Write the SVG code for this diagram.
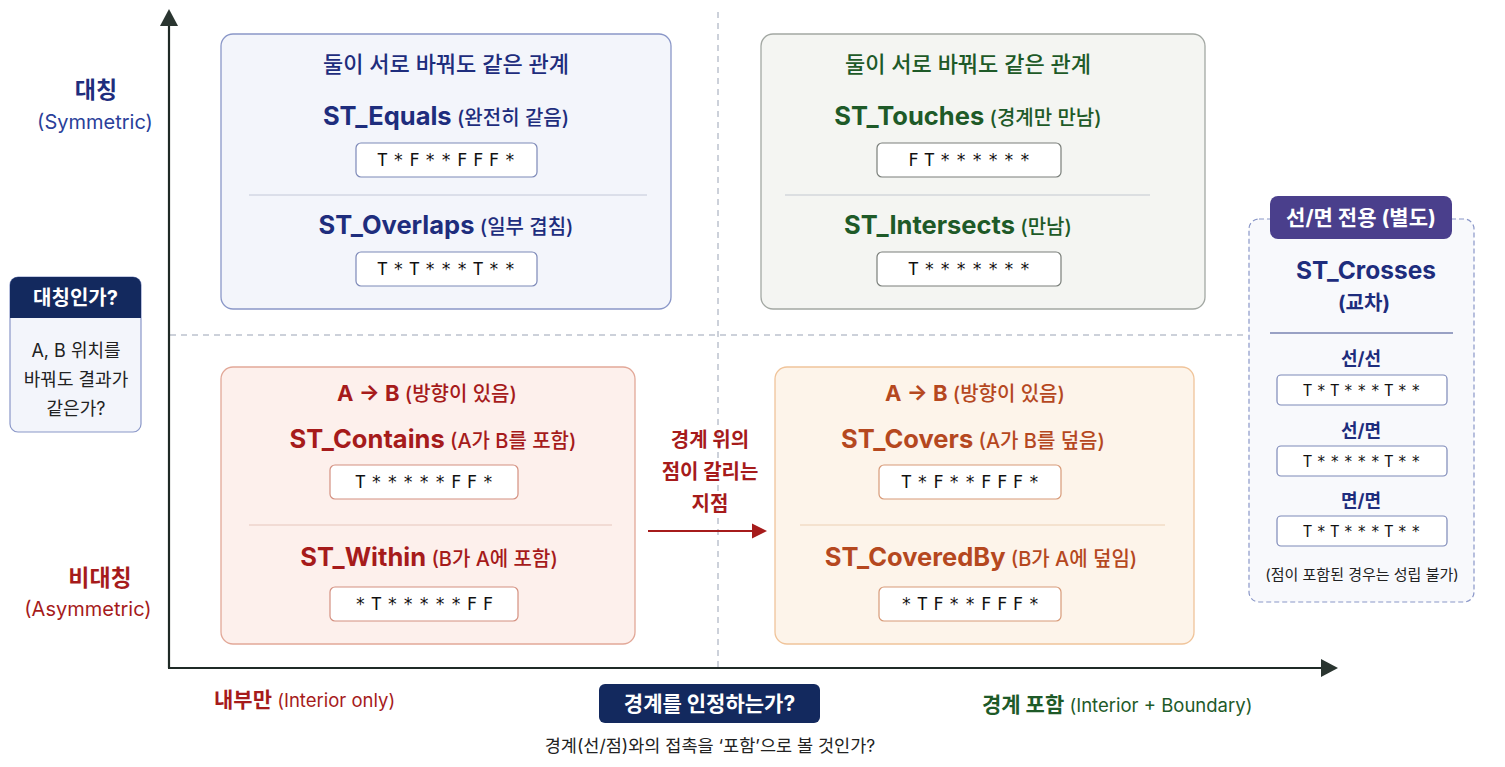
<svg xmlns="http://www.w3.org/2000/svg" width="1505" height="767" viewBox="0 0 1505 767">
<style>
text{font-family:Inter,"Noto Sans CJK KR","Noto Sans",sans-serif;}
.code{font-family:"DejaVu Sans Mono","Liberation Mono",monospace;font-size:17px;letter-spacing:5.7px;fill:#111;text-anchor:middle;}
.h{font-size:22px;text-anchor:middle;}
.t{font-size:25.5px;font-weight:700;}
.s{font-size:20px;font-weight:500;}
.navy{fill:#1e2d7d;}
.green{fill:#1e5a28;}
.red{fill:#a61b1b;}
.orange{fill:#b5481f;}
.cb{fill:#fff;stroke-width:1.2;}
.dash{stroke:#9aa3b5;stroke-width:1;stroke-dasharray:6 5;fill:none;}
.div{stroke-width:1;}
</style>
<rect width="1505" height="767" fill="#ffffff"/>

<g id="grid">
<line class="dash" x1="718" y1="12" x2="718" y2="667"/>
<line class="dash" x1="170" y1="335" x2="1248" y2="335"/>
</g>

<g id="axes">
<line x1="169" y1="668" x2="169" y2="24" stroke="#1f2a26" stroke-width="2.2"/>
<polygon points="169,9 160,26 178,26" fill="#2a3530"/>
<line x1="168" y1="668" x2="1324" y2="668" stroke="#1f2a26" stroke-width="2.2"/>
<polygon points="1338,668 1321,659 1321,677" fill="#2a3530"/>
</g>

<g id="q-symmetric-interior">
<rect x="221" y="34" width="450" height="275" rx="12" fill="#f3f5fb" stroke="#8a97c8" stroke-width="1.3"/>
<text class="h navy" x="446" y="72" font-weight="500">둘이 서로 바꿔도 같은 관계</text>
<text class="navy" x="446" y="125" text-anchor="middle"><tspan class="t">ST_Equals</tspan><tspan class="s"> (완전히 같음)</tspan></text>
<rect class="cb" x="356" y="143" width="181" height="34" rx="5" stroke="#7d89b8"/>
<text class="code" x="449" y="166">T*F**FFF*</text>
<line class="div" x1="249" y1="195" x2="647" y2="195" stroke="#c3c8d8"/>
<text class="navy" x="446" y="234" text-anchor="middle"><tspan class="t">ST_Overlaps</tspan><tspan class="s"> (일부 겹침)</tspan></text>
<rect class="cb" x="356" y="252" width="181" height="34" rx="5" stroke="#7d89b8"/>
<text class="code" x="449" y="275">T*T***T**</text>
</g>

<g id="q-symmetric-boundary">
<rect x="761" y="34" width="444" height="275" rx="12" fill="#f4f5f2" stroke="#a3a8a3" stroke-width="1.3"/>
<text class="h green" x="968" y="72" font-weight="500">둘이 서로 바꿔도 같은 관계</text>
<text class="green" x="968" y="125" text-anchor="middle"><tspan class="t">ST_Touches</tspan><tspan class="s"> (경계만 만남)</tspan></text>
<rect class="cb" x="877" y="143" width="184" height="34" rx="5" stroke="#7a7f7a"/>
<text class="code" x="972" y="166">FT******</text>
<line class="div" x1="785" y1="195" x2="1150" y2="195" stroke="#c3c8d0"/>
<text class="green" x="958" y="234" text-anchor="middle"><tspan class="t">ST_Intersects</tspan><tspan class="s"> (만남)</tspan></text>
<rect class="cb" x="877" y="252" width="184" height="34" rx="5" stroke="#7a7f7a"/>
<text class="code" x="972" y="275">T*******</text>
</g>

<g id="q-asymmetric-interior">
<rect x="221" y="367" width="414" height="277" rx="12" fill="#fdf0ec" stroke="#e2a898" stroke-width="1.3"/>
<text class="red" x="427" y="401" text-anchor="middle"><tspan font-size="22" font-weight="700">A → B</tspan><tspan font-size="20" font-weight="500"> (방향이 있음)</tspan></text>
<text class="red" x="433" y="448" text-anchor="middle"><tspan class="t">ST_Contains</tspan><tspan class="s"> (A가 B를 포함)</tspan></text>
<rect class="cb" x="330" y="465" width="188" height="34" rx="5" stroke="#d49080"/>
<text class="code" x="427" y="488">T*****FF*</text>
<line class="div" x1="249" y1="525" x2="612" y2="525" stroke="#e6c6bc"/>
<text class="red" x="429" y="566" text-anchor="middle"><tspan class="t">ST_Within</tspan><tspan class="s"> (B가 A에 포함)</tspan></text>
<rect class="cb" x="330" y="587" width="188" height="34" rx="5" stroke="#d49080"/>
<text class="code" x="427" y="610">*T*****FF</text>
</g>

<g id="q-asymmetric-boundary">
<rect x="775" y="367" width="419" height="277" rx="12" fill="#fdf4ea" stroke="#f0c49a" stroke-width="1.3"/>
<text class="orange" x="975" y="401" text-anchor="middle"><tspan font-size="22" font-weight="700">A → B</tspan><tspan font-size="20" font-weight="500"> (방향이 있음)</tspan></text>
<text class="orange" x="973" y="448" text-anchor="middle"><tspan class="t">ST_Covers</tspan><tspan class="s"> (A가 B를 덮음)</tspan></text>
<rect class="cb" x="879" y="465" width="182" height="34" rx="5" stroke="#d89a78"/>
<text class="code" x="973" y="488">T*F**FFF*</text>
<line class="div" x1="800" y1="525" x2="1165" y2="525" stroke="#ecd0b4"/>
<text class="orange" x="981" y="566" text-anchor="middle"><tspan class="t">ST_CoveredBy</tspan><tspan class="s"> (B가 A에 덮임)</tspan></text>
<rect class="cb" x="879" y="587" width="182" height="34" rx="5" stroke="#d89a78"/>
<text class="code" x="973" y="610">*TF**FFF*</text>
</g>

<g id="connectors">
<line x1="648" y1="531" x2="754" y2="531" stroke="#a61b1b" stroke-width="2"/>
<polygon points="767,531 752,523.5 752,538.5" fill="#a61b1b"/>
</g>

<g id="boundary-point-label">
<text class="red" font-size="20" font-weight="700" text-anchor="middle"><tspan x="710" y="447">경계 위의</tspan><tspan x="710" y="479">점이 갈리는</tspan><tspan x="710" y="511">지점</tspan></text>
</g>

<g id="crosses">
<rect x="1249" y="219" width="225" height="383" rx="10" fill="#f8f9fc" stroke="#8a97c8" stroke-width="1.2" stroke-dasharray="5 3"/>
<rect x="1270" y="196" width="182" height="43" rx="8" fill="#4a3f8c"/>
<text x="1361" y="225" font-size="21" font-weight="700" fill="#ffffff" text-anchor="middle">선/면 전용 (별도)</text>
<text class="navy" x="1366" y="279" font-size="24.5" font-weight="700" text-anchor="middle">ST_Crosses</text>
<text class="navy" x="1364" y="310" font-size="20" font-weight="700" text-anchor="middle">(교차)</text>
<line x1="1270" y1="333" x2="1453" y2="333" stroke="#3a4a8c" stroke-width="1.2"/>
<text class="navy" x="1361" y="365" font-size="18" font-weight="700" text-anchor="middle">선/선</text>
<rect class="cb" x="1277" y="375" width="170" height="30" rx="4" stroke="#7d89b8"/>
<text class="code" x="1364" y="396" style="font-size:15px;letter-spacing:4.5px">T*T***T**</text>
<text class="navy" x="1361" y="437" font-size="18" font-weight="700" text-anchor="middle">선/면</text>
<rect class="cb" x="1277" y="446" width="170" height="30" rx="4" stroke="#7d89b8"/>
<text class="code" x="1364" y="467" style="font-size:15px;letter-spacing:4.5px">T*****T**</text>
<text class="navy" x="1361" y="507" font-size="18" font-weight="700" text-anchor="middle">면/면</text>
<rect class="cb" x="1277" y="516" width="170" height="30" rx="4" stroke="#7d89b8"/>
<text class="code" x="1364" y="537" style="font-size:15px;letter-spacing:4.5px">T*T***T**</text>
<text x="1362" y="580" font-size="15" fill="#222" text-anchor="middle">(점이 포함된 경우는 성립 불가)</text>
</g>

<g id="y-labels">
<text class="navy" x="96" y="98" font-size="23" font-weight="700" text-anchor="middle">대칭</text>
<text x="95" y="129" font-size="20" fill="#2a3f9a" text-anchor="middle">(Symmetric)</text>
<text class="red" x="100" y="586" font-size="23" font-weight="700" text-anchor="middle">비대칭</text>
<text x="88" y="616" font-size="20" fill="#a61b1b" text-anchor="middle">(Asymmetric)</text>
</g>

<g id="symmetric-question">
<rect x="10" y="277" width="131" height="155" rx="8" fill="#f3f5fb" stroke="#8a97c8" stroke-width="1.2"/>
<path d="M10,318 V285 a8,8 0 0 1 8,-8 H133 a8,8 0 0 1 8,8 V318 Z" fill="#13295e"/>
<text x="75.5" y="305" font-size="20" font-weight="700" fill="#ffffff" text-anchor="middle">대칭인가?</text>
<text font-size="18" fill="#222" text-anchor="middle"><tspan x="76" y="357">A, B 위치를</tspan><tspan x="76" y="386">바꿔도 결과가</tspan><tspan x="76" y="415">같은가?</tspan></text>
</g>

<g id="x-labels">
<text x="214" y="707" fill="#a61b1b"><tspan font-size="21" font-weight="700">내부만</tspan><tspan font-size="18.5"> (Interior only)</tspan></text>
<text x="982" y="712" fill="#1e5a28"><tspan font-size="21" font-weight="700">경계 포함</tspan><tspan font-size="18.5"> (Interior + Boundary)</tspan></text>
</g>

<g id="boundary-question">
<rect x="599" y="684" width="221" height="39" rx="6" fill="#13295e"/>
<text x="709.5" y="711" font-size="21" font-weight="700" fill="#ffffff" text-anchor="middle">경계를 인정하는가?</text>
<text x="710" y="752" font-size="17.5" fill="#222" text-anchor="middle">경계(선/점)와의 접촉을 ‘포함’으로 볼 것인가?</text>
</g>
</svg>
